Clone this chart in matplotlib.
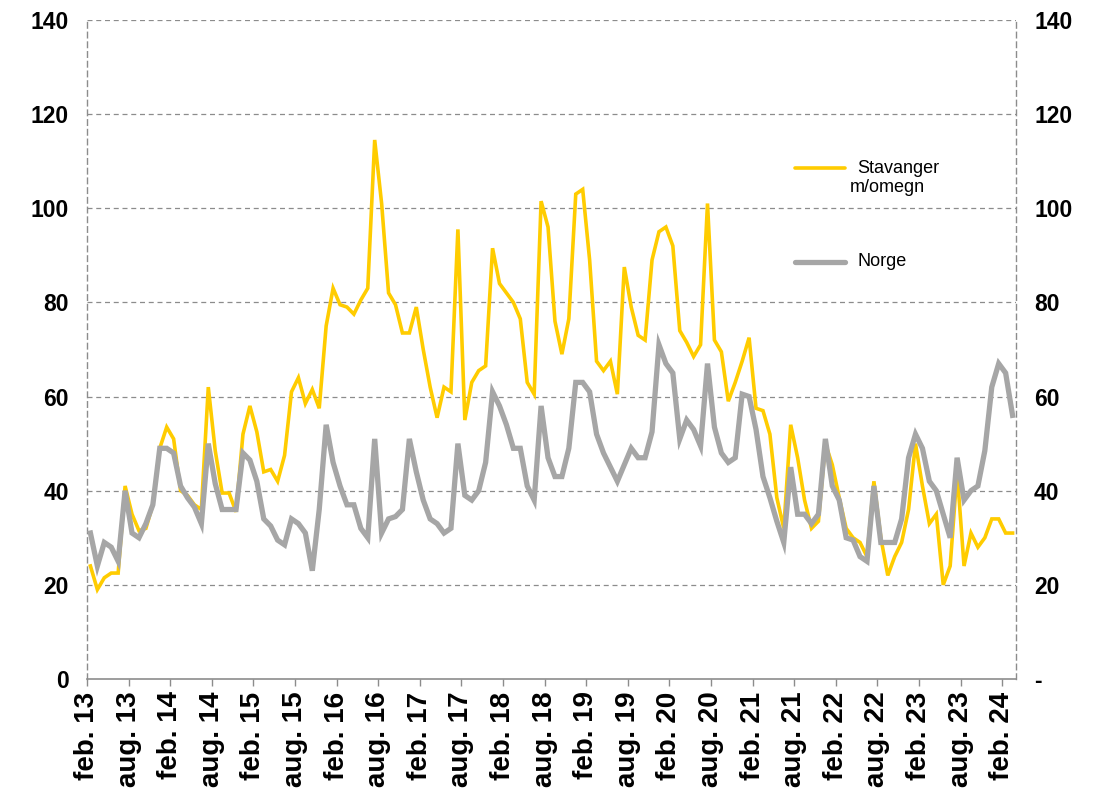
import matplotlib
matplotlib.use('Agg')
import matplotlib.pyplot as plt
import numpy as np

# Månedlige verdier, feb. 2013 - mars 2024
stavanger = [24, 19, 21.5, 22.5, 22.5, 41, 35, 31.5, 32, 37, 49, 53.5,
             51, 40, 39, 37, 36, 62, 48.5, 39.5, 39.5, 35.5, 52, 58,
             52.5, 44, 44.5, 42, 47.5, 61, 64, 58.5, 61.5, 57.5, 75, 83,
             79.5, 79, 77.5, 80.5, 83, 114.5, 101, 82, 79.5, 73.5, 73.5, 79,
             70, 62, 55.5, 62, 61, 95.5, 55, 63, 65.5, 66.5, 91.5, 84,
             82, 80, 76.5, 63, 60.5, 101.5, 96, 76, 69, 76.5, 103, 104,
             89, 67.5, 65.5, 67.5, 60.5, 87.5, 79, 73, 72, 89, 95, 96,
             92, 74, 71.5, 68.5, 71, 101, 72, 69.5, 59, 63, 67.5, 72.5,
             57.5, 57, 52, 38.5, 32, 54, 47, 38, 32, 33.5, 50, 45.5,
             38.5, 32, 30, 29, 26, 42, 30, 22, 26, 29, 36, 50,
             41, 33, 35, 20, 24, 44, 24, 31, 28, 30, 34, 34,
             31, 31]

norge = [31, 24, 29, 28, 25, 40, 31, 30, 33, 37, 49, 49,
         48, 41, 38.5, 36.5, 33, 50, 41.5, 36, 36, 36, 48, 46.5,
         42, 34, 32.5, 29.5, 28.5, 34, 33, 31, 23, 36, 54, 46,
         41, 37, 37, 32, 30, 51, 31, 34, 34.5, 36, 51, 44,
         38, 34, 33, 31, 32, 50, 39, 38, 40, 46, 61, 58,
         54, 49, 49, 41, 38, 58, 47, 43, 43, 49, 63, 63,
         61, 52, 48, 45, 42, 45.5, 49, 47, 47, 52.5, 71, 67,
         65, 51, 55, 53, 49.5, 67, 53.5, 48, 46, 47, 60.5, 60,
         53, 43, 38.5, 33.5, 29, 45, 35, 35, 33, 35, 51, 41,
         38, 30, 29.5, 26, 25, 41, 29, 29, 29, 34, 47, 52,
         49, 42, 40, 35, 30, 47, 38, 40, 41, 48.5, 62, 67,
         65, 56]

# akseetiketter hvert halvår
tick_labels = []
for yr in range(13, 25):
    tick_labels.append('feb. %d' % yr)
    if yr < 24:
        tick_labels.append('aug. %d' % yr)

y_ticks = [0, 20, 40, 60, 80, 100, 120, 140]
right_labels = ['-', '20', '40', '60', '80', '100', '120', '140']

yellow = '#FFCC00'
grey = '#A6A6A6'
grid_col = '#8C8C8C'

plt.rcParams['font.family'] = ['Liberation Sans', 'DejaVu Sans']

fig = plt.figure(figsize=(11.12, 7.96), dpi=100)
ax = fig.add_axes([0.0782, 0.147, 0.8355, 0.828])

# punktene ligger midt i hver måned
x = np.arange(len(stavanger)) + 0.5

ax.plot(x, stavanger, color=yellow, lw=2.6, zorder=3, solid_joinstyle='miter')
ax.plot(x, norge, color=grey, lw=3.8, zorder=4, solid_joinstyle='miter')

ax.set_xlim(0, 134)
ax.set_ylim(0, 140)

ax.set_yticks(y_ticks)
ax.set_yticklabels([str(v) for v in y_ticks], fontsize=16.5, fontweight='bold')
ax.tick_params(axis='y', length=0, pad=13)

ax.set_xticks(np.arange(0, 6 * len(tick_labels), 6))
ax.set_xticklabels(tick_labels, rotation=90, fontsize=20, fontweight='bold',
                   va='top', ha='center')
ax.tick_params(axis='x', direction='out', length=5, width=1, color=grid_col, pad=4)

for v in y_ticks[1:]:
    ax.axhline(v, color=grid_col, lw=0.9, ls=(0, (4, 3)), zorder=1)

for side in ['left', 'right']:
    ax.spines[side].set_color(grid_col)
    ax.spines[side].set_linestyle((0, (4, 3)))
    ax.spines[side].set_linewidth(1.0)
ax.spines['top'].set_visible(False)
ax.spines['bottom'].set_color(grid_col)
ax.spines['bottom'].set_linewidth(1.2)

ax2 = ax.twinx()
ax2.set_ylim(0, 140)
ax2.set_yticks(y_ticks)
ax2.set_yticklabels(right_labels, fontsize=16.5, fontweight='bold')
ax2.tick_params(axis='y', length=0, pad=13)
for s in ax2.spines.values():
    s.set_visible(False)

# forklaring
ax.plot([0.762, 0.816], [0.775, 0.775], color=yellow, lw=2.6, transform=ax.transAxes,
        solid_capstyle='round', zorder=5)
ax.text(0.829, 0.775, 'Stavanger', transform=ax.transAxes, fontsize=13,
        va='center', ha='left', zorder=5)
ax.text(0.821, 0.745, 'm/omegn', transform=ax.transAxes, fontsize=13,
        va='center', ha='left', zorder=5)
ax.plot([0.762, 0.816], [0.633, 0.633], color=grey, lw=3.8, transform=ax.transAxes,
        solid_capstyle='round', zorder=5)
ax.text(0.829, 0.633, 'Norge', transform=ax.transAxes, fontsize=13,
        va='center', ha='left', zorder=5)

fig.savefig('out.png', dpi=100)
